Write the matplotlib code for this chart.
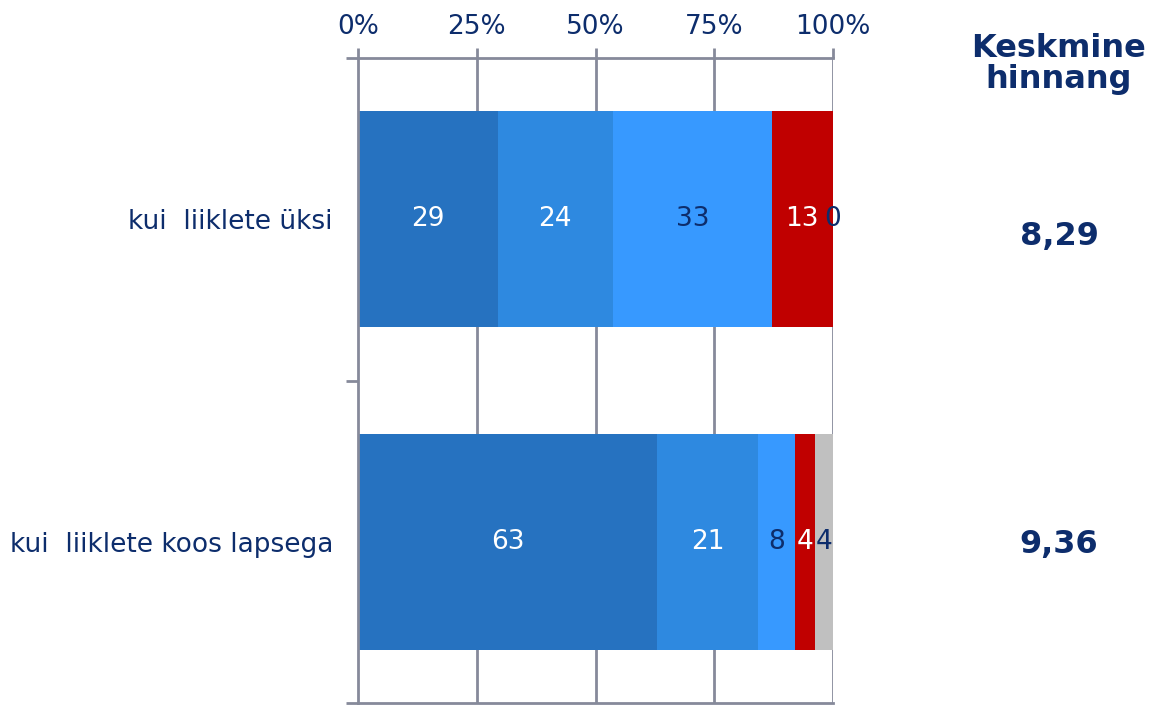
import matplotlib.pyplot as plt
import numpy as np

plt.rcParams['font.family'] = ['DejaVu Sans']

# Andmed
kategooriad = ['kui  liiklete üksi', 'kui  liiklete koos lapsega']
segment_1 = [29.4, 62.9]
segment_2 = [24.3, 21.4]
segment_3 = [33.4, 7.8]
segment_4 = [12.8, 4.2]
segment_5 = [0.1, 3.7]
keskmine = ['8,29', '9,36']

seeriad = [segment_1, segment_2, segment_3, segment_4, segment_5]
varvid = ['#2672C0', '#2E89E0', '#3799FF', '#C00000', '#C0C0C0']
tekst_varvid = ['white', 'white', '#0D2D6C', 'white', '#0D2D6C']
navy = '#0D2D6C'
hall = '#868A9A'

fig = plt.figure(figsize=(11.51, 7.05), dpi=100)
ax = fig.add_axes([358 / 1151, 2 / 705, 475 / 1151, 645 / 705])

y = np.arange(len(kategooriad))
vasak = np.zeros(len(kategooriad))
for i, (vaartused, varv) in enumerate(zip(seeriad, varvid)):
    vaartused = np.array(vaartused)
    ax.barh(y, vaartused, left=vasak, height=0.67, color=varv, edgecolor='none', zorder=2)
    for j, v in enumerate(vaartused):
        tv = tekst_varvid[i]
        if i == 4 and j == 0:
            tv = navy
        if i == 3 and j == 1:
            tv = 'white'
        ax.text(vasak[j] + v / 2, y[j], '%d' % round(v), ha='center', va='center',
                color=tv, fontsize=19, zorder=3)
    vasak += vaartused

ax.set_xlim(0, 100)
ax.set_ylim(1.5, -0.5)
ax.xaxis.tick_top()
ax.set_xticks([0, 25, 50, 75, 100])
ax.set_xticklabels(['0%', '25%', '50%', '75%', '100%'], fontsize=19, color=navy)
ax.tick_params(axis='x', length=7, width=2, color=hall, pad=6)
for gx in [25, 50, 75, 100]:
    ax.axvline(gx, color=hall, lw=2, zorder=1)

ax.set_yticks(y)
ax.set_yticklabels(kategooriad, fontsize=19, color=navy)
ax.tick_params(axis='y', length=0, pad=18)
ax.set_yticks([-0.5, 0.5, 1.5], minor=True)
ax.tick_params(axis='y', which='minor', length=8.5, width=2, color=hall)

for s in ['top', 'bottom', 'left']:
    ax.spines[s].set_color(hall)
    ax.spines[s].set_linewidth(2)
ax.spines['right'].set_visible(False)

fig.text(1059 / 1151, 1 - 64 / 705, 'Keskmine\nhinnang', ha='center', va='center',
         fontsize=23, fontweight='bold', color=navy, linespacing=1.0)
for j, k in enumerate(keskmine):
    yy = [236, 545][j]
    fig.text(1059 / 1151, 1 - yy / 705, k, ha='center', va='center',
             fontsize=23, fontweight='bold', color=navy)

fig.savefig('out.png', dpi=100)
